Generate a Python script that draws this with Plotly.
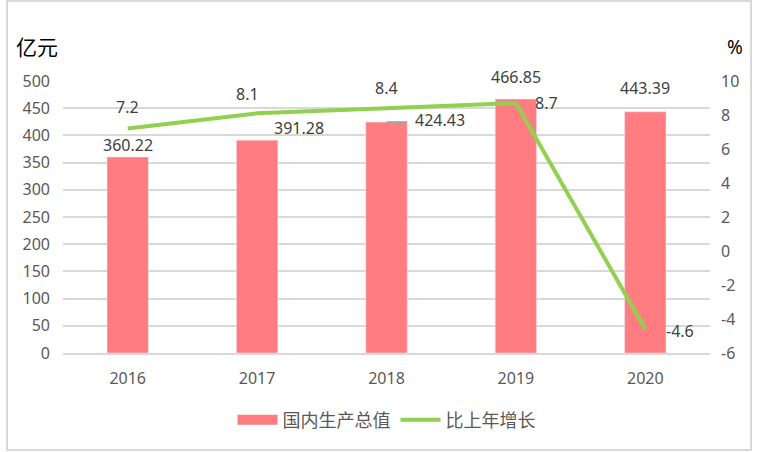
import plotly.graph_objects as go

years = ['2016', '2017', '2018', '2019', '2020']
gdp = [360.22, 391.28, 424.43, 466.85, 443.39]
growth = [7.2, 8.1, 8.4, 8.7, -4.6]
gdp_labels = ['360.22', '391.28', '424.43', '466.85', '443.39']
growth_labels = ['7.2', '8.1', '8.4', '8.7', '-4.6']
pct_ticks = [-6, -4, -2, 0, 2, 4, 6, 8, 10]

# label offsets (px) picked to sit like the original
gdp_shift = [(0, 12), (42, 12), (53, 2), (0, 22), (0, 24)]
growth_shift = [(0, 22), (-10, 19), (0, 20), (31, 0), (35, -2)]

FONT = 'Noto Sans, Noto Sans CJK SC'
GRID = '#D9D9D9'
BAR = '#FF7C80'
LINE = '#92D050'

xs = list(range(len(years)))

fig = go.Figure()
fig.add_trace(go.Bar(x=xs, y=gdp, name='国内生产总值', marker_color=BAR,
                     width=0.32, yaxis='y', showlegend=False))
# legend swatch for the bars (wide block like the original)
fig.add_trace(go.Scatter(x=[None], y=[None], name='国内生产总值', mode='lines',
                         line=dict(color=BAR, width=12), yaxis='y'))
fig.add_trace(go.Scatter(x=xs, y=growth, name='比上年增长', mode='lines',
                         line=dict(color=LINE, width=4), yaxis='y2'))

for i in xs:
    dx, dy = gdp_shift[i]
    fig.add_annotation(x=i, y=gdp[i], xref='x', yref='y', text=gdp_labels[i], showarrow=False,
                       xshift=dx, yshift=dy, yanchor='middle',
                       font=dict(size=16, color='#404040', family=FONT))
    dx, dy = growth_shift[i]
    fig.add_annotation(x=i, y=growth[i], xref='x', yref='y2', text=growth_labels[i], showarrow=False,
                       xshift=dx, yshift=dy, yanchor='middle',
                       font=dict(size=16, color='#404040', family=FONT))

# small leader line on the 2018 label
fig.add_shape(type='line', xref='x', yref='y', x0=2, x1=2.16, y0=gdp[2], y1=gdp[2],
              line=dict(color='#A6A6A6', width=2))

# chart border
fig.add_shape(type='rect', xref='paper', yref='paper',
              x0=(7 - 63) / 647, x1=(751 - 63) / 647, y0=(353 - 450) / 272, y1=(353 - 1) / 272,
              line=dict(color=GRID, width=2), layer='below')

fig.add_annotation(xref='paper', yref='paper', x=(14 - 63) / 647, y=(353 - 47) / 272,
                   text='亿元', showarrow=False, xanchor='left', yanchor='middle',
                   font=dict(size=21, color='#000000', family=FONT))
fig.add_annotation(xref='paper', yref='paper', x=(725 - 63) / 647, y=(353 - 47) / 272,
                   text='%', showarrow=False, xanchor='left', yanchor='middle',
                   font=dict(size=19, color='#000000', family=FONT))

fig.update_layout(
    width=758, height=452,
    margin=dict(l=63, r=48, t=81, b=99),
    plot_bgcolor='white', paper_bgcolor='white',
    font=dict(family=FONT, size=16, color='#595959'),
    showlegend=True,
    legend=dict(orientation='h', x=0.5, xanchor='center', y=(353 - 420) / 272, yanchor='middle',
                font=dict(size=18, color='#595959'), itemwidth=40, tracegroupgap=0),
    xaxis=dict(range=[-0.5, 4.5], tickvals=xs, ticktext=years, showgrid=False, zeroline=False,
               showline=True, linecolor=GRID, linewidth=2, ticks='', ticklabelstandoff=10),
    yaxis=dict(range=[0, 500], dtick=50, showgrid=True, gridcolor=GRID, gridwidth=2,
               zeroline=False, ticklabelstandoff=12),
    yaxis2=dict(range=[-6, 10], tickvals=pct_ticks, ticktext=[str(v) for v in pct_ticks],
                overlaying='y', side='right', showgrid=False, zeroline=False, ticklabelstandoff=10),
)

fig.write_html('out.html', config={'displayModeBar': False},
               post_script="document.body.style.margin='0';")
